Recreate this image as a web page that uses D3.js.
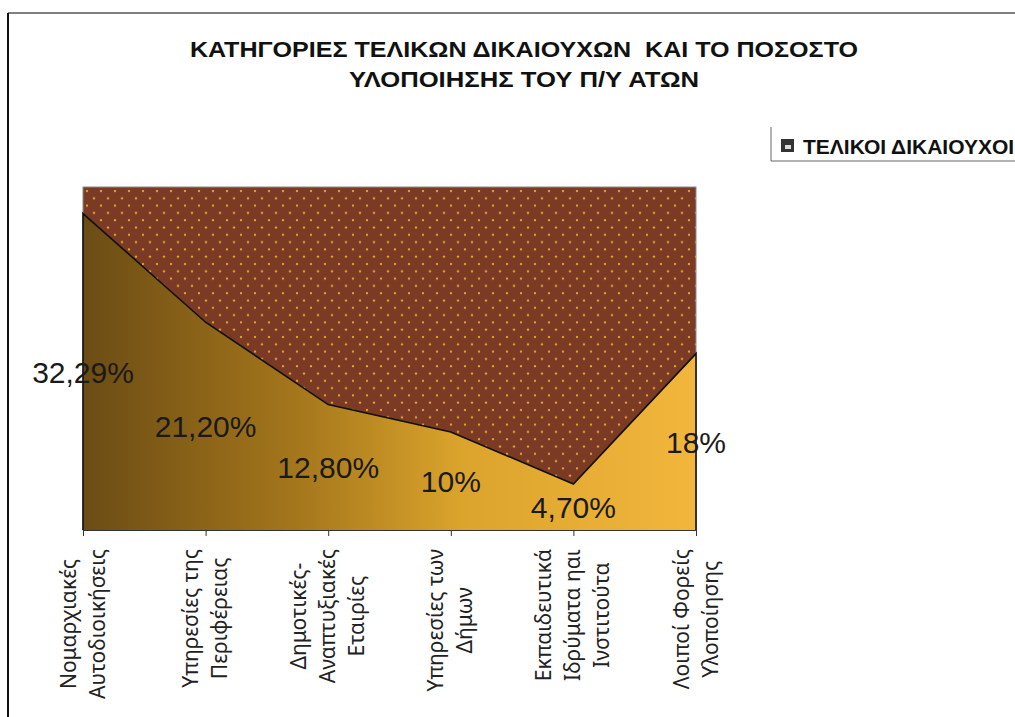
<!DOCTYPE html>
<html>
<head>
<meta charset="utf-8">
<script src="https://cdnjs.cloudflare.com/ajax/libs/d3/7.8.5/d3.min.js"></script>
<style>
  body { margin: 0; background: #fff; }
  svg { display: block; }
</style>
</head>
<body>
<script>
// Chart data
const categories = ['Νομαρχιακές Αυτοδιοικήσεις', 'Υπηρεσίες της Περιφέρειας', 'Δημοτικές- Αναπτυξιακές Εταιρίες', 'Υπηρεσίες των Δήμων', 'Εκπαιδευτικά Ιδρύματα ηαι Ινστιτούτα', 'Λοιποί Φορείς Υλοποίησης'];
const categoryLines = [
    ['Νομαρχιακές', 'Αυτοδιοικήσεις'],
    ['Υπηρεσίες της', 'Περιφέρειας'],
    ['Δημοτικές-', 'Αναπτυξιακές', 'Εταιρίες'],
    ['Υπηρεσίες των', 'Δήμων'],
    ['Εκπαιδευτικά', 'Ιδρύματα ηαι', 'Ινστιτούτα'],
    ['Λοιποί Φορείς', 'Υλοποίησης']
];
const values = [32.29, 21.2, 12.8, 10, 4.7, 18];
const valueLabels = ['32,29%', '21,20%', '12,80%', '10%', '4,70%', '18%'];
const titleLines = ['ΚΑΤΗΓΟΡΙΕΣ ΤΕΛΙΚΩΝ ΔΙΚΑΙΟΥΧΩΝ  ΚΑΙ ΤΟ ΠΟΣΟΣΤΟ', 'ΥΛΟΠΟΙΗΣΗΣ ΤΟΥ Π/Υ ΑΤΩΝ'];
const legendLabel = 'ΤΕΛΙΚΟΙ ΔΙΚΑΙΟΥΧΟΙ';

const W = 1015, H = 717;
const plot = { left: 83, right: 696, top: 187, bottom: 530 };

const svg = d3.select('body').append('svg').attr('width', W).attr('height', H);
const defs = svg.append('defs');

// dotted brown background pattern
const pat = defs.append('pattern').attr('id', 'dots').attr('patternUnits', 'userSpaceOnUse')
    .attr('width', 14).attr('height', 14.6).attr('x', plot.left).attr('y', plot.top);
pat.append('rect').attr('width', 14).attr('height', 14.6).attr('fill', '#7a3a24');
pat.append('circle').attr('cx', 4).attr('cy', 4).attr('r', 1.2).attr('fill', '#eaaa2c');
pat.append('circle').attr('cx', 11).attr('cy', 11.3).attr('r', 1.2).attr('fill', '#eaaa2c');

// area gradient olive brown -> gold
const grad = defs.append('linearGradient').attr('id', 'areaGrad')
    .attr('gradientUnits', 'userSpaceOnUse')
    .attr('x1', plot.left).attr('x2', plot.right).attr('y1', 0).attr('y2', 0);
grad.append('stop').attr('offset', '0%').attr('stop-color', '#6b4c14');
grad.append('stop').attr('offset', '35%').attr('stop-color', '#a5771c');
grad.append('stop').attr('offset', '62%').attr('stop-color', '#dba42c');
grad.append('stop').attr('offset', '100%').attr('stop-color', '#f2b63c');

// outer frame
svg.append('line').attr('x1', 8).attr('x2', W).attr('y1', 13).attr('y2', 13)
    .attr('stroke', '#555').attr('stroke-width', 1.5);
svg.append('line').attr('x1', 8).attr('x2', 8).attr('y1', 13).attr('y2', H)
    .attr('stroke', '#111').attr('stroke-width', 2);

// title
const titleWidths = [668, 350];
svg.append('g').selectAll('text').data(titleLines).join('text')
    .attr('x', 524).attr('y', (d, i) => 57 + i * 30)
    .attr('text-anchor', 'middle')
    .attr('font-family', '"Liberation Sans Narrow", "Liberation Sans", sans-serif')
    .attr('font-weight', 'bold').attr('font-size', 22).attr('fill', '#111')
    .attr('textLength', (d, i) => titleWidths[i]).attr('lengthAdjust', 'spacingAndGlyphs')
    .style('white-space', 'pre')
    .text((d) => d);

// scales
const x = d3.scalePoint().domain(categories).range([plot.left, plot.right]);
const y = d3.scaleLinear().domain([0, 35]).range([plot.bottom, plot.top]);

// plot background
svg.append('rect').attr('x', plot.left).attr('y', plot.top)
    .attr('width', plot.right - plot.left).attr('height', plot.bottom - plot.top)
    .attr('fill', 'url(#dots)').attr('stroke', '#8a8a8a').attr('stroke-width', 1);

// area
const pts = categories.map((c, i) => ({ c, v: values[i] }));
const area = d3.area().x((d) => x(d.c)).y0(y(0)).y1((d) => y(d.v));
svg.append('path').datum(pts).attr('d', area).attr('fill', 'url(#areaGrad)');
const outline = d3.line().x((d) => x(d.c)).y((d) => y(d.v));
svg.append('path')
    .datum([{ c: categories[0], v: 0 }, ...pts, { c: categories[categories.length - 1], v: 0 }])
    .attr('d', outline).attr('fill', 'none').attr('stroke', '#111').attr('stroke-width', 1.6);

// x axis
const gx = svg.append('g').attr('transform', `translate(0,${plot.bottom})`)
    .call(d3.axisBottom(x).tickSize(6).tickSizeOuter(0).tickFormat(''));
gx.select('.domain').attr('stroke', '#333');
gx.selectAll('.tick line').attr('stroke', '#333');

// rotated category labels
const lineGap = 29;
const labelTop = 549;
const labGroups = svg.append('g').selectAll('g').data(categories).join('g');
labGroups.each(function (c, i) {
    const lines = categoryLines[i];
    const g = d3.select(this);
    const t = g.selectAll('text').data(lines).join('text')
        .attr('font-family', '"Noto Sans", "DejaVu Sans", sans-serif').attr('font-size', 21).attr('fill', '#222')
        .attr('text-anchor', 'middle')
        .text((d) => d);
    let maxLen = 0;
    t.each(function () { maxLen = Math.max(maxLen, this.getComputedTextLength()); });
    const cy = labelTop + maxLen / 2;
    const n = lines.length;
    t.attr('transform', (d, j) => {
        const cx = x(c) + (j - (n - 1) / 2) * lineGap + 7;
        return `translate(${cx},${cy}) rotate(-90)`;
    });
});

// value labels
svg.append('g').selectAll('text').data(pts).join('text')
    .attr('x', (d) => x(d.c))
    .attr('y', (d) => (y(d.v) + y(0)) / 2 + 11)
    .attr('text-anchor', 'middle')
    .attr('font-family', '"Liberation Sans", Arial, sans-serif').attr('font-size', 30).attr('fill', '#1a1a1a')
    .text((d, i) => valueLabels[i]);

// legend
const lg = svg.append('g');
lg.append('line').attr('x1', 771).attr('x2', 771).attr('y1', 127).attr('y2', 161).attr('stroke', '#666');
lg.append('line').attr('x1', 771).attr('x2', W).attr('y1', 161).attr('y2', 161).attr('stroke', '#666');
lg.append('rect').attr('x', 781).attr('y', 139).attr('width', 13).attr('height', 13)
    .attr('fill', '#333');
lg.append('rect').attr('x', 785).attr('y', 145).attr('width', 6).attr('height', 4).attr('fill', '#ddd');
lg.append('text').attr('x', 803).attr('y', 154)
    .attr('font-family', '"Liberation Sans", Arial, sans-serif').attr('font-weight', 'bold')
    .attr('font-size', 21).attr('fill', '#111')
    .text(legendLabel);
</script>
</body>
</html>
